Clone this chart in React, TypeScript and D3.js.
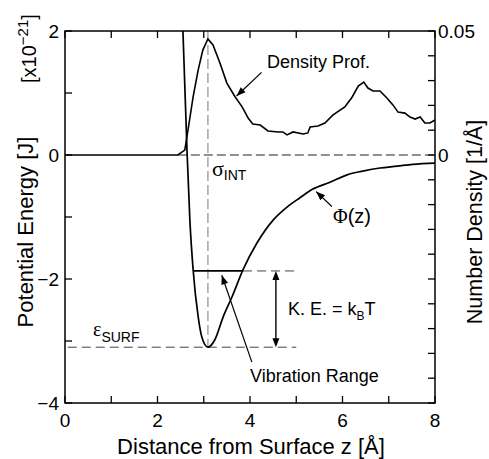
import React from "react";
import * as d3 from "d3";

// Potential energy curve Φ(z) [x10^-21 J]
const phiZ = [2.55, 2.64, 2.70, 2.77, 2.88, 2.96, 3.09, 3.24, 3.42, 3.61, 3.85, 4.15, 4.50, 4.80, 5.08, 5.36, 5.73, 6.10, 6.44, 6.81, 7.18, 7.52, 8.0];
const phiV = [2.0, 0.03, -1.05, -1.85, -2.61, -2.94, -3.10, -2.98, -2.61, -2.29, -1.85, -1.42, -1.05, -0.84, -0.69, -0.55, -0.44, -0.32, -0.26, -0.21, -0.18, -0.15, -0.13];

// Density profile [1/Å]
const denZ = [0, 2.44, 2.59, 2.66, 2.77, 2.88, 2.98, 3.09, 3.20, 3.35, 3.50, 3.68, 3.83, 3.96, 4.06, 4.22, 4.39, 4.61, 4.71, 4.80, 4.93, 5.15, 5.25, 5.30, 5.47, 5.62, 5.79, 6.05, 6.21, 6.34, 6.46, 6.55, 6.66, 6.81, 6.96, 7.09, 7.20, 7.35, 7.46, 7.57, 7.68, 7.78, 7.89, 8.0];
const denV = [0, 0, 0.002, 0.0101, 0.0234, 0.0343, 0.0423, 0.0468, 0.0444, 0.0371, 0.0290, 0.0234, 0.0194, 0.0149, 0.0125, 0.0121, 0.0097, 0.0093, 0.0093, 0.0081, 0.0093, 0.0085, 0.0089, 0.0113, 0.0117, 0.0129, 0.0161, 0.0194, 0.0234, 0.0278, 0.0294, 0.0270, 0.0258, 0.0258, 0.0230, 0.0202, 0.0173, 0.0169, 0.0153, 0.0145, 0.0153, 0.0129, 0.0129, 0.0141];

const xTicks = [0, 1, 2, 3, 4, 5, 6, 7, 8];
const xTickLabels = ["0", "", "2", "", "4", "", "6", "", "8"];
const yLTicks = [2, 1, 0, -1, -2, -3, -4];
const yLTickLabels = ["2", "", "0", "", "\u22122", "", "\u22124"];
const yRTicks = [0.05, 0.04, 0.03, 0.02, 0.01, 0, -0.01, -0.02, -0.03, -0.04, -0.05, -0.06, -0.07, -0.08, -0.09, -0.1];
const yRLabelTicks = [0.05, 0];
const yRTickLabels = ["0.05", "0"];

// annotation values
const sigmaZ = 3.09;
const epsSurf = -3.10;
const keLevel = -1.87;
const keLeftZ = 2.77;
const keRightZ = 3.85;
const dashEndZ = 5.0;
const arrowZ = 4.56;

const FONT = "'Liberation Sans', Arial, Helvetica, sans-serif";
const SERIF = "'Liberation Serif', 'Times New Roman', serif";

function arrowHead(tx: number, ty: number, fx: number, fy: number, len = 9, hw = 3.5) {
  const dx = tx - fx, dy = ty - fy;
  const L = Math.hypot(dx, dy);
  const ux = dx / L, uy = dy / L;
  const bx = tx - ux * len, by = ty - uy * len;
  const px = -uy * hw, py = ux * hw;
  return `M${tx},${ty}L${bx + px},${by + py}L${bx - px},${by - py}Z`;
}

export default function App() {
  const W = 489, H = 459;
  const x = d3.scaleLinear().domain([0, 8]).range([65, 435]);
  const yL = d3.scaleLinear().domain([-4, 2]).range([403, 31]);
  const yR = d3.scaleLinear().domain([-0.1, 0.05]).range([403, 31]);

  const phiLine = d3.line<number>().x((_, i) => x(phiZ[i])).y((d) => yL(d)).curve(d3.curveMonotoneX);
  const denLine = d3.line<number>().x((_, i) => x(denZ[i])).y((d) => yR(d));

  const [x0, x1] = x.range();
  const [yB, yT] = yL.range();
  const tick = 7;

  const dTail = [x(4.25), yR(0.0333)], dTip = [x(3.71), yR(0.0238)];
  const pTail = [x(5.77), yL(-0.83)], pTip = [x(5.43), yL(-0.59)];
  const vTail = [x(4.04), yL(-3.34)], vTip = [x(3.39), yL(-1.94)];

  return (
    <svg width={W} height={H} style={{ position: "absolute", left: 0, top: 0, background: "#fff" }} fontFamily={FONT}>
      <defs>
        <clipPath id="plot">
          <rect x={x0} y={yT} width={x1 - x0} height={yB - yT} />
        </clipPath>
      </defs>
      <line x1={x(2.44)} x2={x1} y1={yL(0)} y2={yL(0)} stroke="#222" strokeWidth={1} strokeDasharray="9,4" />
      <line x1={x(sigmaZ)} x2={x(sigmaZ)} y1={yT} y2={yL(epsSurf)} stroke="#999" strokeWidth={1.3} strokeDasharray="10,4" />
      <line x1={x(0.06)} x2={x(dashEndZ)} y1={yL(epsSurf)} y2={yL(epsSurf)} stroke="#444" strokeWidth={1} strokeDasharray="9,5" />
      <line x1={x(keRightZ)} x2={x(dashEndZ)} y1={yL(keLevel)} y2={yL(keLevel)} stroke="#444" strokeWidth={1} strokeDasharray="9,5" />
      <line x1={x(keLeftZ)} x2={x(keRightZ)} y1={yL(keLevel)} y2={yL(keLevel)} stroke="#000" strokeWidth={1.8} />

      <g clipPath="url(#plot)">
        <path d={phiLine(phiV) || ""} fill="none" stroke="#000" strokeWidth={1.7} />
        <path d={denLine(denV) || ""} fill="none" stroke="#000" strokeWidth={1.6} />
      </g>

      <line x1={x(arrowZ)} x2={x(arrowZ)} y1={yL(keLevel) + 6} y2={yL(epsSurf) - 6} stroke="#000" strokeWidth={1.4} />
      <path d={arrowHead(x(arrowZ), yL(keLevel), x(arrowZ), yL(epsSurf))} fill="#000" />
      <path d={arrowHead(x(arrowZ), yL(epsSurf), x(arrowZ), yL(keLevel))} fill="#000" />

      <line x1={dTail[0]} y1={dTail[1]} x2={dTip[0]} y2={dTip[1]} stroke="#000" strokeWidth={1.2} />
      <path d={arrowHead(dTip[0], dTip[1], dTail[0], dTail[1])} fill="#000" />
      <line x1={pTail[0]} y1={pTail[1]} x2={pTip[0]} y2={pTip[1]} stroke="#000" strokeWidth={1.2} />
      <path d={arrowHead(pTip[0], pTip[1], pTail[0], pTail[1])} fill="#000" />
      <line x1={vTail[0]} y1={vTail[1]} x2={vTip[0]} y2={vTip[1]} stroke="#000" strokeWidth={1.2} />
      <path d={arrowHead(vTip[0], vTip[1], vTail[0], vTail[1])} fill="#000" />

      <rect x={x0} y={yT} width={x1 - x0} height={yB - yT} fill="none" stroke="#000" strokeWidth={1.5} />

      {xTicks.map((t, i) => (
        <g key={"x" + i}>
          <line x1={x(t)} x2={x(t)} y1={yB} y2={yB - tick} stroke="#000" strokeWidth={1.3} />
          <line x1={x(t)} x2={x(t)} y1={yT} y2={yT + tick} stroke="#000" strokeWidth={1.3} />
          <text x={x(t)} y={yB + 24} fontSize={19} textAnchor="middle">{xTickLabels[i]}</text>
        </g>
      ))}
      {yLTicks.map((t, i) => (
        <g key={"yl" + i}>
          <line x1={x0} x2={x0 + tick} y1={yL(t)} y2={yL(t)} stroke="#000" strokeWidth={1.3} />
          <text x={x0 - 6} y={yL(t) + 7} fontSize={19} textAnchor="end">{yLTickLabels[i]}</text>
        </g>
      ))}
      {yRTicks.map((t, i) => (
        <line key={"yr" + i} x1={x1} x2={x1 - tick} y1={yR(t)} y2={yR(t)} stroke="#000" strokeWidth={1.3} />
      ))}
      {yRLabelTicks.map((t, i) => (
        <text key={"yrl" + i} x={x1 + 3} y={yR(t) + 7} fontSize={19} textAnchor="start">{yRTickLabels[i]}</text>
      ))}

      <text x={251} y={454} fontSize={22} textAnchor="middle">Distance from Surface z [Å]</text>
      <text transform="translate(33,232) rotate(-90)" fontSize={22} textAnchor="middle">Potential Energy [J]</text>
      <text transform="translate(36,83) rotate(-90)" fontSize={20} textAnchor="start">
        [x10<tspan fontSize={15} dy={-8}>−21</tspan><tspan fontSize={20} dy={8}>]</tspan>
      </text>
      <text transform="translate(482,222) rotate(-90)" fontSize={21.5} textAnchor="middle">Number Density [1/Å]</text>

      <text x={267} y={68} fontSize={18}>Density Prof.</text>
      <text x={333} y={223} fontSize={20}>
        <tspan fontFamily={SERIF}>Φ</tspan>(z)
      </text>
      <text x={212} y={176} fontSize={22} fontFamily={SERIF}>σ<tspan fontFamily={FONT} fontSize={14} dy={4}>INT</tspan></text>
      <text x={93} y={336} fontSize={20} fontFamily={SERIF}>ε<tspan fontFamily={FONT} fontSize={14} dy={6}>SURF</tspan></text>
      <text x={288} y={315} fontSize={18}>K. E. = k<tspan fontSize={12} dy={5}>B</tspan><tspan dy={-5}>T</tspan></text>
      <text x={250} y={382} fontSize={18}>Vibration Range</text>
    </svg>
  );
}
